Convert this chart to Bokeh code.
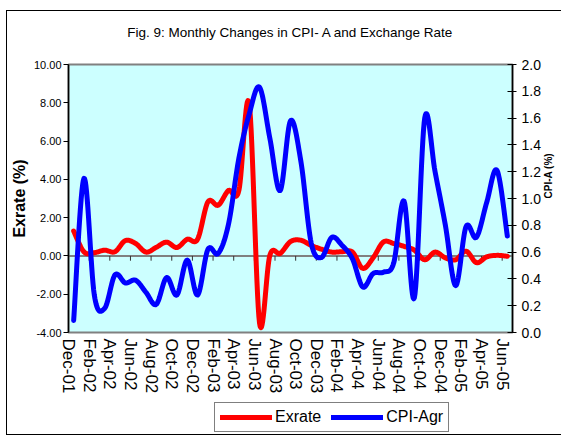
import math
import numpy as np
from bokeh.plotting import figure
from bokeh.layouts import column
from bokeh.models import (Range1d, LinearAxis, FixedTicker, Legend, LegendItem,
                          Span, NumeralTickFormatter)
from bokeh.embed import file_html
from bokeh.resources import INLINE

# ---------------- data ----------------
tick_labels = ["Dec-01", "Feb-02", "Apr-02", "Jun-02", "Aug-02", "Oct-02",
               "Dec-02", "Feb-03", "Apr-03", "Jun-03", "Aug-03", "Oct-03",
               "Dec-03", "Feb-04", "Apr-04", "Jun-04", "Aug-04", "Oct-04",
               "Dec-04", "Feb-05", "Apr-05", "Jun-05"]

# monthly values Dec-01 .. Jun-05
exrate = [1.30, 0.21, 0.17, 0.30, 0.22, 0.80, 0.65, 0.20, 0.45, 0.72,
          0.44, 0.87, 0.87, 2.82, 2.65, 3.42, 3.42, 7.95, -3.50, 0.03,
          0.13, 0.75, 0.82, 0.55, 0.35, 0.20, 0.22, 0.20, -0.65, -0.10,
          0.73, 0.65, 0.50, 0.30, -0.20, 0.20, -0.10, -0.20, 0.25, -0.35,
          -0.05, 0.03, -0.02]

cpi_agr = [0.09, 1.15, 0.28, 0.18, 0.43, 0.37, 0.39, 0.30, 0.21, 0.41,
           0.28, 0.54, 0.28, 0.62, 0.59, 0.81, 1.30, 1.63, 1.83, 1.45,
           1.06, 1.58, 1.28, 0.67, 0.56, 0.71, 0.65, 0.55, 0.34, 0.44,
           0.45, 0.52, 0.98, 0.26, 1.60, 1.20, 0.80, 0.35, 0.79, 0.71,
           0.97, 1.21, 0.72]

left_ticks = [-4, -2, 0, 2, 4, 6, 8, 10]
right_ticks = [0.0, 0.2, 0.4, 0.6, 0.8, 1.0, 1.2, 1.4, 1.6, 1.8, 2.0]

FONT = "Liberation Sans"
RED = "#FF0000"
BLUE = "#0000FF"


def smooth(xs, ys, steps=16):
    """Excel-like smoothed line (Catmull-Rom as cubic Bezier)."""
    P = list(zip(xs, ys))
    n = len(P)
    ox, oy = [], []
    for i in range(n - 1):
        p0 = P[i - 1] if i > 0 else P[i]
        p1 = P[i]
        p2 = P[i + 1]
        p3 = P[i + 2] if i + 2 < n else P[i + 1]
        c1 = (p1[0] + (p2[0] - p0[0]) / 6.0, p1[1] + (p2[1] - p0[1]) / 6.0)
        c2 = (p2[0] - (p3[0] - p1[0]) / 6.0, p2[1] - (p3[1] - p1[1]) / 6.0)
        ts = np.linspace(0, 1, steps, endpoint=(i == n - 2))
        for t in ts:
            a = (1 - t) ** 3
            b = 3 * (1 - t) ** 2 * t
            c = 3 * (1 - t) * t ** 2
            d = t ** 3
            ox.append(a * p1[0] + b * c1[0] + c * c2[0] + d * p2[0])
            oy.append(a * p1[1] + b * c1[1] + c * c2[1] + d * p2[1])
    return ox, oy


n = len(exrate)
xs = np.arange(n) + 0.5

p = figure(frame_width=444, frame_height=268,
           x_range=Range1d(0, n), y_range=Range1d(left_ticks[0], left_ticks[-1]),
           output_backend="svg", toolbar_location=None,
           min_border_left=61, min_border_right=42, min_border_top=53,
           min_border_bottom=66,
           background_fill_color="#CCFFFF", border_fill_color="white",
           outline_line_color="#808080", outline_line_width=2,
           title="Fig. 9: Monthly Changes in CPI- A and Exchange Rate")

p.title.align = "center"
p.title.text_font = FONT
p.title.text_font_size = "13.5px"
p.title.text_font_style = "normal"
p.title.text_color = "black"
try:
    p.title.padding = dict(left=0, right=0, top=0, bottom=25)
    p.title.standoff = 0
except Exception:
    p.title.standoff = 33

p.xgrid.visible = False
p.ygrid.visible = False

p.extra_y_ranges = {"cpi": Range1d(right_ticks[0], right_ticks[-1])}

# left axis
ya = p.yaxis[0]
ya.ticker = FixedTicker(ticks=left_ticks)
ya.formatter = NumeralTickFormatter(format="0.00")
ya.major_tick_out = 5
ya.major_tick_in = 0
ya.minor_tick_out = 0
ya.minor_tick_in = 0
ya.axis_line_color = "black"
ya.axis_line_width = 1.5
ya.major_tick_line_color = "black"
ya.major_label_text_font = FONT
ya.major_label_text_font_size = "11px"
ya.major_label_text_color = "black"
ya.major_label_standoff = 2
ya.axis_label = "Exrate (%)"
ya.axis_label_text_font = FONT
ya.axis_label_text_font_size = "16px"
ya.axis_label_text_font_style = "bold"
ya.axis_label_text_color = "black"
ya.axis_label_standoff = 3

# right axis
ra = LinearAxis(y_range_name="cpi", ticker=FixedTicker(ticks=right_ticks),
                formatter=NumeralTickFormatter(format="0.0"))
ra.major_tick_out = 4
ra.major_tick_in = 5
ra.minor_tick_out = 0
ra.minor_tick_in = 0
ra.axis_line_color = "black"
ra.axis_line_width = 1.5
ra.major_tick_line_color = "black"
ra.major_label_text_font = FONT
ra.major_label_text_font_size = "14px"
ra.major_label_text_color = "black"
ra.major_label_standoff = 5
ra.axis_label = "CPI-A (%)"
ra.axis_label_text_font = FONT
ra.axis_label_text_font_size = "10px"
ra.axis_label_text_font_style = "bold"
ra.axis_label_text_color = "black"
ra.axis_label_standoff = 5
ra.axis_label_orientation = math.pi / 2
p.add_layout(ra, "right")

# bottom (category) axis: labels at the bottom of the plot area
xa = p.xaxis[0]
tick_pos = list(range(0, 2 * len(tick_labels), 2))
xa.ticker = FixedTicker(ticks=tick_pos)
xa.major_label_overrides = {k: lab for k, lab in zip(tick_pos, tick_labels)}
xa.major_tick_out = 0
xa.major_tick_in = 0
xa.minor_tick_out = 0
xa.minor_tick_in = 0
xa.axis_line_color = None
xa.major_label_orientation = -math.pi / 2
xa.major_label_text_font = FONT
xa.major_label_text_font_size = "17px"
xa.major_label_text_color = "black"
xa.major_label_standoff = 6

# category axis line crossing at zero, with its tick marks
p.add_layout(Span(location=0, dimension="width", line_color="#808080",
                  line_width=2, level="underlay"))
zt = tick_pos[1:]
p.segment(x0=zt, y0=[0] * len(zt), x1=zt, y1=[-0.25] * len(zt),
          line_color="#333333", line_width=1)

# series
ex_x, ex_y = smooth(xs, exrate)
cp_x, cp_y = smooth(xs, cpi_agr)
line_style = dict(line_width=5, line_cap="round", line_join="round")
p.line(ex_x, ex_y, line_color=RED, **line_style)
p.line(cp_x, cp_y, line_color=BLUE, y_range_name="cpi", **line_style)

# legend strip (a full-width figure without axes placed under the chart)
lg = figure(width=547, height=36, x_range=Range1d(0, 1), y_range=Range1d(0, 1),
            x_axis_location=None, y_axis_location=None,
            output_backend="svg", toolbar_location=None, min_border=0,
            min_border_left=0, min_border_right=0, min_border_top=0,
            min_border_bottom=0,
            outline_line_color=None, background_fill_color="white",
            border_fill_color="white")
lg.grid.visible = False
k_ex = lg.line([0, 1], [-5, -5], line_color=RED, **line_style)
k_cp = lg.line([0, 1], [-5, -5], line_color=BLUE, **line_style)
legend = Legend(items=[LegendItem(label="Exrate", renderers=[k_ex]),
                       LegendItem(label="CPI-Agr", renderers=[k_cp])],
                orientation="horizontal", location=(146, 2),
                border_line_color="black", border_line_width=1,
                background_fill_color="white", background_fill_alpha=1,
                label_text_font=FONT, label_text_font_size="16px",
                label_text_color="black",
                glyph_width=52, glyph_height=18, padding=5, spacing=10,
                label_standoff=3, margin=0)
lg.add_layout(legend, "center")

layout = column(p, lg, spacing=0,
                styles={"border": "1px solid black", "margin-left": "6px",
                        "margin-top": "10px"})

open("out.html", "w").write(file_html(layout, INLINE))
